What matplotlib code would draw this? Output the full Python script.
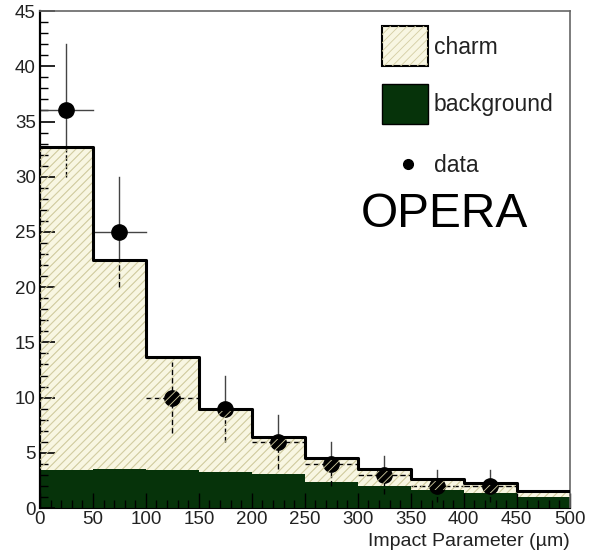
import numpy as np
import matplotlib
matplotlib.use('Agg')
import matplotlib.pyplot as plt
from matplotlib.patches import Rectangle
from matplotlib.ticker import MultipleLocator

plt.rcParams['font.family'] = ['Liberation Sans', 'DejaVu Sans']
plt.rcParams['hatch.linewidth'] = 0.6

# impact parameter binning (um)
bin_edges = [0, 50, 100, 150, 200, 250, 300, 350, 400, 450, 500]
# stacked MC: total (charm + background) and background only
mc_total = [32.7, 22.5, 13.7, 9.0, 6.4, 4.5, 3.5, 2.6, 2.3, 1.5]
mc_background = [3.4, 3.5, 3.4, 3.3, 3.1, 2.4, 2.0, 1.6, 1.35, 1.0]
# measured events
data_x = [25, 75, 125, 175, 225, 275, 325, 375, 425]
data_y = [36, 25, 10, 9, 6, 4, 3, 2, 2]
data_err = [6.0, 5.0, 3.2, 3.0, 2.45, 2.0, 1.73, 1.41, 1.41]

CREAM = '#f8f6e2'
HATCH = '#d3cda3'
DKGREEN = '#06330a'

fig = plt.figure(figsize=(5.96, 5.54), dpi=100)
ax = fig.add_axes([0.067, 0.083, 0.889, 0.897])

edges = np.array(bin_edges)
tot = np.append(mc_total, mc_total[-1])
bkg = np.append(mc_background, mc_background[-1])

# charm region (cream + hatch), background in dark green
ax.fill_between(edges, bkg, tot, step='post', facecolor=CREAM, edgecolor=HATCH,
                hatch='////', linewidth=0, zorder=1)
ax.fill_between(edges, 0, bkg, step='post', facecolor=DKGREEN, edgecolor='none',
                linewidth=0, zorder=1.5)

# data error bars: dashed where they sit inside the histogram
for x, y, e, h in zip(data_x, data_y, data_err, mc_total):
    lo, hi = y - e, y + e
    if hi > h:
        ax.plot([x, x], [max(lo, h), hi], color='#444444', lw=1.0, zorder=2)
    if lo < h:
        ax.plot([x, x], [lo, min(hi, h)], color='black', lw=1.0, ls=(0, (4, 2)), zorder=2)
    if y < h:
        ax.plot([x - 25, x + 25], [y, y], color='black', lw=1.0, ls=(0, (4, 2)), zorder=2)
    else:
        ax.plot([x - 25, x + 25], [y, y], color='#444444', lw=1.0, zorder=2)
ax.plot(data_x, data_y, 'o', color='black', ms=11, zorder=2.5)

# hatch drawn again over the points inside the charm region
ax.fill_between(edges, bkg, tot, step='post', facecolor='none', edgecolor=HATCH,
                hatch='////', linewidth=0, zorder=3)

# histogram outline
ax.step(edges, tot, where='post', color='black', lw=2.2, zorder=4)

ax.set_xlim(0, 500)
ax.set_ylim(0, 45)
ax.xaxis.set_major_locator(MultipleLocator(50))
ax.xaxis.set_minor_locator(MultipleLocator(10))
ax.yaxis.set_major_locator(MultipleLocator(5))
ax.yaxis.set_minor_locator(MultipleLocator(1))
ax.tick_params(which='both', direction='in', labelsize=13.5, labelcolor='#222222')
ax.tick_params(axis='y', which='major', length=11, width=1.2, pad=3)
ax.tick_params(axis='y', which='minor', length=6, width=1.0)
ax.tick_params(axis='x', which='major', length=11, width=1.0, pad=2)
ax.tick_params(axis='x', which='minor', length=6, width=1.0)
ax.spines['left'].set_linewidth(1.6)
for s in ['top', 'right']:
    ax.spines[s].set_color('#666666')
    ax.spines[s].set_linewidth(1.2)

ax.text(1.0, -0.068, 'Impact Parameter (\u00b5m)', transform=ax.transAxes,
        ha='right', va='center', fontsize=14, color='#222222')

# legend
ax.add_patch(Rectangle((0.645, 0.889), 0.087, 0.081, transform=ax.transAxes,
                       facecolor=CREAM, edgecolor='black', lw=1.5, zorder=5))
ax.add_patch(Rectangle((0.645, 0.889), 0.087, 0.081, transform=ax.transAxes,
                       facecolor='none', edgecolor=HATCH, hatch='////', lw=0, zorder=5))
ax.add_patch(Rectangle((0.645, 0.773), 0.087, 0.080, transform=ax.transAxes,
                       facecolor=DKGREEN, edgecolor='black', lw=1.0, zorder=5))
ax.plot([0.694], [0.692], 'o', color='black', ms=7, transform=ax.transAxes, zorder=5)
ax.text(0.743, 0.926, 'charm', transform=ax.transAxes, fontsize=16.5, va='center', color='#222222')
ax.text(0.743, 0.813, 'background', transform=ax.transAxes, fontsize=16.5, va='center', color='#222222')
ax.text(0.743, 0.690, 'data', transform=ax.transAxes, fontsize=16.5, va='center', color='#222222')
ax.text(0.763, 0.590, 'OPERA', transform=ax.transAxes, fontsize=34.5, ha='center', va='center')

fig.savefig('out.png', dpi=100)
